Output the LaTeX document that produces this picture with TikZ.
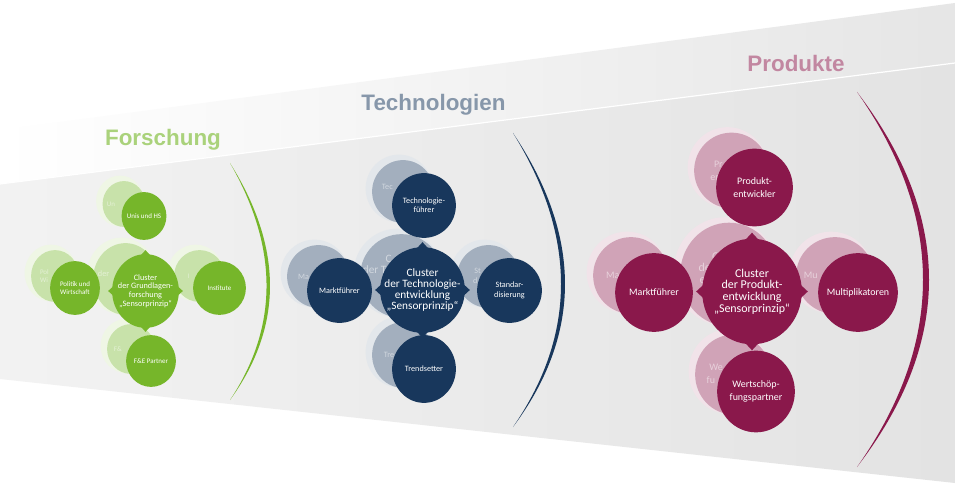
\documentclass[tikz,border=0pt]{standalone}
\usepackage{fontspec}
\setmainfont{Carlito}
\newfontfamily\tfont{Liberation Sans}
\usetikzlibrary{shapes.geometric,calc}
\definecolor{cG}{RGB}{118,182,42}
\definecolor{cN}{RGB}{24,55,92}
\definecolor{cP}{RGB}{138,24,75}
\tikzset{
  ball/.style={ellipse, inner sep=0pt, outer sep=0pt, draw=none},
  txt/.style={text=white, align=center, inner sep=0pt},
  title/.style={font=\tfont\bfseries\fontsize{22.5}{27}\selectfont, anchor=base, inner sep=0pt},
}
\newcommand\fGc{\fontsize{8.3}{8.6}\selectfont}
\newcommand\fGs{\fontsize{7}{7.4}\selectfont}
\newcommand\fNc{\fontsize{11.3}{10.8}\selectfont}
\newcommand\fNs{\fontsize{8.2}{9.4}\selectfont}
\newcommand\fPc{\fontsize{12}{11.7}\selectfont}
\newcommand\fPs{\fontsize{10}{12.5}\selectfont}
\newcommand\ph[1]{\phantom{#1}}
\def\gdx{21}\def\gdy{14}
% ghost copy behind a ball: halo, pale ball, and the visible fragment of its text
\newcommand\ghostball[8]{%
  \node[ball, fill=#6!12!white, minimum width=#4+3, minimum height=#5+3] (#1-h) at (#2-\gdx-4,#3-\gdy-3) {};
  \node[ball, fill=#6!40!white, minimum width=#4-2, minimum height=#5-2] (#1-g) at (#2-\gdx,#3-\gdy) {};
  \node[txt, opacity=.5, font=#8] (#1-gt) at (#1-g) {#7};}
\newcommand\frontball[8]{%
  \node[ball, fill=#6, minimum width=#4, minimum height=#5] (#1) at (#2,#3) {};
  \node[txt, font=#8] (#1-t) at (#1) {#7};}
\newcommand\trin[4]{\fill[#2] ($(#1.north)+(-#3,1)$) -- ($(#1.north)+(#3,1)$) -- ($(#1.north)+(0,-#4)$) -- cycle;}
\newcommand\tris[4]{\fill[#2] ($(#1.south)+(-#3,-1)$) -- ($(#1.south)+(#3,-1)$) -- ($(#1.south)+(0,#4)$) -- cycle;}
\newcommand\triw[4]{\fill[#2] ($(#1.west)+(1,-#3)$) -- ($(#1.west)+(1,#3)$) -- ($(#1.west)+(-#4,0)$) -- cycle;}
\newcommand\trie[4]{\fill[#2] ($(#1.east)+(-1,-#3)$) -- ($(#1.east)+(-1,#3)$) -- ($(#1.east)+(#4,0)$) -- cycle;}
\begin{document}
\begin{tikzpicture}[x=1bp,y=-1bp]
\useasboundingbox (0,0) rectangle (955,496);
\fill[white] (0,0) rectangle (955,496);
% background bands
\shade[left color=white, right color=black!10] (0,130) -- (955,3) -- (955,63) -- (0,184) -- cycle;
\shade[left color=black!5, right color=black!11] (0,184) -- (955,63) -- (955,483) -- (0,379) -- cycle;
\draw[white, line width=1.2bp] (0,184) -- (955,63);
% titles
\node[title, text=cG!62!white] (tF) at (163,146) {Forschung};
\node[title, text=cN!52!white] (tT) at (433.5,111) {Technologien};
\node[title, text=cP!52!white] (tP) at (796,72) {Produkte};
% arcs
\fill[cG] (230,163) .. controls (283.3,247.7) and (283.3,326.7) .. (230,400)
          .. controls (278.7,326.7) and (278.7,247.7) .. (230,163) -- cycle;
\fill[cN] (513,133) .. controls (582.3,236.3) and (582.3,334.3) .. (513,427)
          .. controls (577,334.3) and (577,236.3) .. (513,133) -- cycle;
\fill[cP] (857,92) .. controls (953,217.3) and (953,342.3) .. (857,467)
          .. controls (945,342.3) and (945,217.3) .. (857,92) -- cycle;
% ---------- Forschung cluster ----------
\def\gdx{20}\def\gdy{12}
\ghostball{gc}{145.5}{291}{67}{74}{cG}{\ph{Cluster}\\der \ph{Grundlagen-}\\\ph{forschung}\\\ph{„Sensorprinzip“}}{\fGc}
\ghostball{gt}{144}{216}{45}{48}{cG}{Un\ph{is und HS}}{\fGs}
\ghostball{gl}{75}{288}{50}{54}{cG}{Pol\ph{itik und}\\Wi\ph{rtschaft}}{\fGs}
\ghostball{gr}{219.5}{288}{53}{54}{cG}{I\ph{nstitute}}{\fGs}
\ghostball{gb}{151}{361}{50}{52}{cG}{F\&\ph{E Partner}}{\fGs}
\frontball{gc}{145.5}{291}{67}{74}{cG}{Cluster\\der Grundlagen-\\forschung\\„Sensorprinzip“}{\fGc}
\trin{gc}{cG}{4.5}{4}\tris{gc}{cG}{4.5}{4}\triw{gc}{cG}{4.5}{4}\trie{gc}{cG}{4.5}{4}
\frontball{gt}{144}{216}{45}{48}{cG}{Unis und HS}{\fGs}
\frontball{gl}{75}{288}{50}{54}{cG}{Politik und\\Wirtschaft}{\fGs}
\frontball{gr}{219.5}{288}{53}{54}{cG}{Institute}{\fGs}
\frontball{gb}{151}{361}{50}{52}{cG}{F\&E Partner}{\fGs}
% ---------- Technologien cluster ----------
\def\gdx{21}\def\gdy{14}
\ghostball{nc}{422.5}{290}{85}{86}{cN}{C\ph{luster}\\der T\ph{echnologie-}\\\ph{entwicklung}\\\ph{„Sensorprinzip“}}{\fNc}
\ghostball{nt}{424}{205.5}{64}{65}{cN}{Tec\ph{hnologie-}\\\ph{führer}}{\fNs}
\ghostball{nl}{339.5}{290.5}{65}{65}{cN}{Ma\ph{rktführer}}{\fNs}
\ghostball{nr}{509.5}{290.5}{65}{65}{cN}{St\ph{andar-}\\d\ph{isierung}}{\fNs}
\ghostball{nb}{424}{369}{64}{68}{cN}{Tre\ph{ndsetter}}{\fNs}
\frontball{nc}{422.5}{290}{85}{86}{cN}{Cluster\\der Technologie-\\entwicklung\\„Sensorprinzip“}{\fNc}
\trin{nc}{cN}{5.5}{5}\tris{nc}{cN}{5.5}{5}\triw{nc}{cN}{5.5}{5}\trie{nc}{cN}{5.5}{5}
\frontball{nt}{424}{205.5}{64}{65}{cN}{Technologie-\\führer}{\fNs}
\frontball{nl}{339.5}{290.5}{65}{65}{cN}{Marktführer}{\fNs}
\frontball{nr}{509.5}{290.5}{65}{65}{cN}{Standar-\\disierung}{\fNs}
\frontball{nb}{424}{369}{64}{68}{cN}{Trendsetter}{\fNs}
% ---------- Produkte cluster ----------
\def\gdx{23}\def\gdy{17}
\ghostball{pc}{752}{291.5}{100}{106}{cP}{C\ph{luster}\\de\ph{r Produkt-}\\e\ph{ntwicklung}\\\ph{„Sensorprinzip“}}{\fPc}
\ghostball{pt}{754.5}{187.5}{77}{78}{cP}{Pr\ph{odukt-}\\en\ph{twickler}}{\fPs}
\ghostball{pl}{654}{292.5}{78}{79}{cP}{Ma\ph{rktführer}}{\fPs}
\ghostball{pr}{858}{292.5}{80}{79}{cP}{Mu\ph{ltiplikatoren}}{\fPs}
\ghostball{pb}{756}{391.5}{78}{82}{cP}{We\ph{rtschöp-}\\fu\ph{ngspartner}}{\fPs}
\frontball{pc}{752}{291.5}{100}{106}{cP}{Cluster\\der Produkt-\\entwicklung\\„Sensorprinzip“}{\fPc}
\trin{pc}{cP}{6.5}{6}\tris{pc}{cP}{6.5}{6}\triw{pc}{cP}{6.5}{6}\trie{pc}{cP}{6.5}{6}
\frontball{pt}{754.5}{187.5}{77}{78}{cP}{Produkt-\\entwickler}{\fPs}
\frontball{pl}{654}{292.5}{78}{79}{cP}{Marktführer}{\fPs}
\frontball{pr}{858}{292.5}{80}{79}{cP}{Multiplikatoren}{\fPs}
\frontball{pb}{756}{391.5}{78}{82}{cP}{Wertschöp-\\fungspartner}{\fPs}
\end{tikzpicture}
\end{document}
